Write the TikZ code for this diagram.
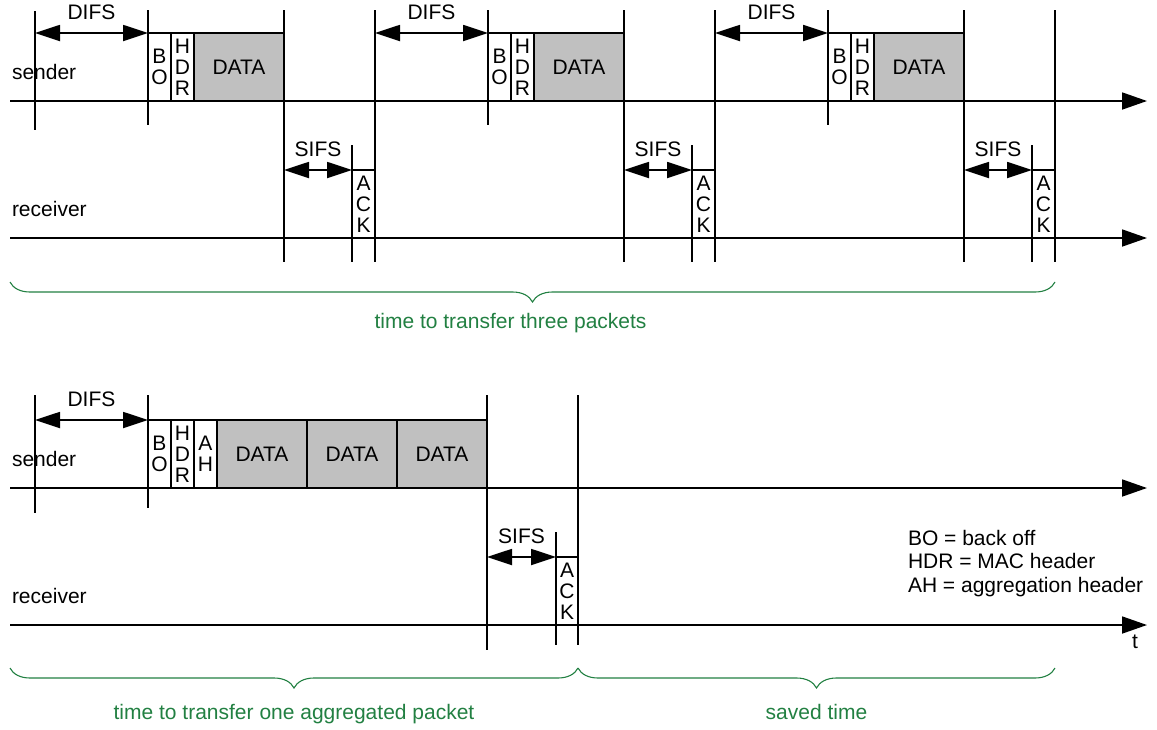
\documentclass[tikz,border=0pt]{standalone}
\usepackage{fontspec}
\setmainfont{Liberation Sans}
\usetikzlibrary{arrows.meta,decorations.pathreplacing,positioning}
\definecolor{datagray}{RGB}{192,192,192}
\definecolor{timegreen}{RGB}{34,128,66}

\begin{document}
\begin{tikzpicture}[x=0.5pt, y=-0.5pt, line width=0.9pt, inner sep=0pt, outer sep=0pt,
    font=\fontsize{10.5}{12.6}\selectfont,
    axis/.style={-{Triangle[length=12.5pt,width=8.5pt]}},
    span/.style={{Triangle[length=12.5pt,width=8pt]}-{Triangle[length=12.5pt,width=8pt]}},
    slot/.style={draw, anchor=south west, minimum width=11.5pt, minimum height=34pt,
        align=center, font=\fontsize{10.5}{10.5}\selectfont},
    payload/.style={slot, fill=datagray, minimum width=45pt},
    timebrace/.style={draw=timegreen, line width=0.55pt, decorate,
        decoration={brace, mirror, amplitude=10pt}},
    timelabel/.style={text=timegreen}]
    \useasboundingbox (0,0) rectangle (1157,729);

    % time axes
    \foreach \ya/\nm in {101/sa, 238/ra, 488/sb, 625/rb} {
        \coordinate (\nm0) at (10,\ya);
        \coordinate (\nm1) at (1147,\ya);
        \draw[axis] (\nm0) -- (\nm1);
    }
    \node[anchor=base west] (snda) at (12,79) {sender};
    \node[anchor=base west] (rcva) at (12,216) {receiver};
    \node[anchor=base west] (sndb) at (12,466) {sender};
    \node[anchor=base west] (rcvb) at (12,603) {receiver};
    \node[anchor=base] (tlbl) at (1135,648) {t};

    % three single packets
    \foreach \c in {0,1,2} {
        \pgfmathsetmacro{\xs}{35+340*\c}
        \coordinate (difs\c) at (\xs,33);
        \node[slot] (bo\c) at (\xs+113,101) {B\\O};
        \node[slot, right=0pt of bo\c] (hdr\c) {H\\D\\R};
        \node[payload, right=0pt of hdr\c] (data\c) {DATA};
        \node[slot] (ack\c) at (\xs+317,238) {A\\C\\K};

        \draw[span] (difs\c) -- (bo\c.north west) node[midway, above=6.5pt] {DIFS};
        \draw[span] (data\c.south east |- ack\c.north west) -- (ack\c.north west)
            node[midway, above=6.5pt] {SIFS};

        \draw (bo\c.north west |- 0,10) -- (bo\c.north west |- 0,125);
        \draw (data\c.north east |- 0,10) -- (data\c.north east |- 0,262);
        \draw (ack\c.north west |- 0,145) -- (ack\c.north west |- 0,262);
        \draw (ack\c.north east |- 0,10) -- (ack\c.north east |- 0,262);
    }
    \draw (difs0 |- 0,11) -- (difs0 |- 0,130);

    % one aggregated packet
    \coordinate (difs3) at (35,420);
    \node[slot] (bo3) at (148,488) {B\\O};
    \node[slot, right=0pt of bo3] (hdr3) {H\\D\\R};
    \node[slot, right=0pt of hdr3] (ah3) {A\\H};
    \node[payload, right=0pt of ah3] (pa) {DATA};
    \node[payload, right=0pt of pa] (pb) {DATA};
    \node[payload, right=0pt of pb] (pc) {DATA};
    \node[slot, minimum width=11pt] (ack3) at (556,625) {A\\C\\K};

    \draw[span] (difs3) -- (bo3.north west) node[midway, above=6.5pt] {DIFS};
    \draw[span] (pc.south east |- ack3.north west) -- (ack3.north west)
        node[midway, above=6.5pt] {SIFS};

    \draw (difs3 |- 0,395) -- (difs3 |- 0,513);
    \draw (bo3.north west |- 0,395) -- (bo3.north west |- 0,508);
    \draw (pc.north east |- 0,395) -- (pc.north east |- 0,650);
    \draw (ack3.north west |- 0,532) -- (ack3.north west |- 0,645);
    \draw (ack3.north east |- 0,395) -- (ack3.north east |- 0,645);

    % legend
    \node[anchor=base west] (leg1) at (908,545) {BO = back off};
    \node[anchor=base west] (leg2) at (908,568.5) {HDR = MAC header};
    \node[anchor=base west] (leg3) at (908,592) {AH = aggregation header};

    % braces
    \draw[timebrace] (10,282) -- (1055,282)
        node[timelabel, midway, below=15.5pt, xshift=-11pt] (tthree) {time to transfer three packets};
    \draw[timebrace] (10,668) -- (ack3.north east |- 0,668)
        node[timelabel, midway, below=18pt] (tagg) {time to transfer one aggregated packet};
    \draw[timebrace] (ack3.north east |- 0,668) -- (1055,668)
        node[timelabel, midway, below=18pt] (tsaved) {saved time};
\end{tikzpicture}
\end{document}
